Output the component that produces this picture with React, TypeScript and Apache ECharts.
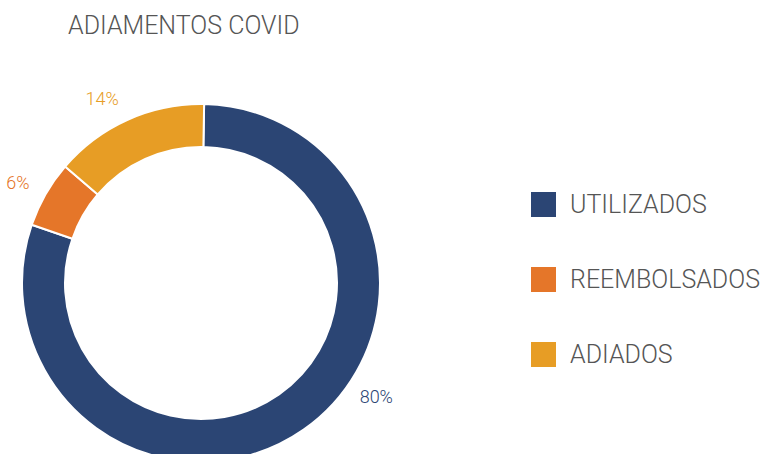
import React, { useEffect, useRef } from "react";
import * as echarts from "echarts";

const categories = ["UTILIZADOS", "REEMBOLSADOS", "ADIADOS"];
const values = [80, 6, 14];
const colors = ["#2b4574", "#e57629", "#e79d25"];
const titleText = "ADIAMENTOS COVID";

const CX = 201;
const CY = 283;
const R_IN = 136;
const R_OUT = 179;
const LABEL_R = 209;
const START_ANGLE = 89;
// angular nudges (degrees) applied to each percentage label
const LABEL_NUDGE = [-22, -1, -4];

export default function App() {
  const ref = useRef<HTMLDivElement>(null);
  useEffect(() => {
    if (!ref.current) return;
    const chart = echarts.init(ref.current, undefined, { renderer: "svg" });
    const total = values.reduce((a, b) => a + b, 0);
    const mids: number[] = [];
    let acc = 0;
    values.forEach((v) => {
      mids.push(90 - START_ANGLE + ((acc + v / 2) / total) * 360);
      acc += v;
    });
    chart.setOption({
      animation: false,
      backgroundColor: "#ffffff",
      title: {
        text: titleText,
        left: 63,
        top: 8,
        textStyle: {
          fontFamily: "Roboto",
          fontWeight: 300,
          fontSize: 25,
          color: "#555555",
        },
      },
      legend: {
        orient: "vertical",
        left: 529,
        top: 190,
        padding: 0,
        itemWidth: 27,
        itemHeight: 27,
        itemGap: 46,
        icon: "rect",
        textStyle: {
          fontFamily: "Roboto",
          fontWeight: 300,
          fontSize: 25,
          color: "#555555",
          padding: [0, 0, 0, 8],
        },
        data: categories,
      },
      series: [
        {
          type: "pie",
          center: [CX, CY],
          radius: [R_IN, R_OUT],
          startAngle: START_ANGLE,
          clockwise: true,
          avoidLabelOverlap: false,
          itemStyle: { borderColor: "#ffffff", borderWidth: 2 },
          label: {
            show: true,
            position: "outside",
            formatter: "{c}%",
            fontFamily: "Roboto",
            fontWeight: 300,
            fontSize: 18,
          },
          labelLine: { show: false },
          labelLayout: (params: any) => {
            const i = params.dataIndex;
            const a = mids[i] + LABEL_NUDGE[i];
            const rad = (a * Math.PI) / 180;
            return {
              x: CX + LABEL_R * Math.sin(rad),
              y: CY - LABEL_R * Math.cos(rad),
              align: "center",
              verticalAlign: "middle",
            };
          },
          data: categories.map((c, i) => ({
            name: c,
            value: values[i],
            itemStyle: { color: colors[i] },
            label: { color: colors[i] },
          })),
        },
      ],
    });
    return () => chart.dispose();
  }, []);
  return (
    <div
      ref={ref}
      style={{ position: "fixed", left: 0, top: 0, width: 763, height: 454 }}
    />
  );
}
